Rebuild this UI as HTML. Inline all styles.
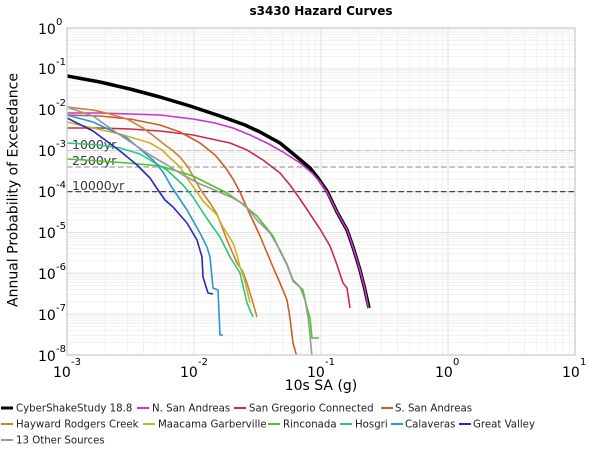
<!DOCTYPE html>
<html><head><meta charset="utf-8"><style>
html,body{margin:0;padding:0;background:#fff;}
svg{display:block;}
text{font-family:"DejaVu Sans","Liberation Sans",sans-serif;}
</style></head><body>
<svg width="600" height="450" viewBox="0 0 600 450" xmlns="http://www.w3.org/2000/svg">
<rect width="600" height="450" fill="#fff"/>
<defs><clipPath id="c"><rect x="67" y="28" width="508" height="327"/></clipPath></defs>
<!-- minor grid -->
<path stroke="#eeeeee" stroke-width="0.8" fill="none" d="
M105.2 28V355M127.6 28V355M143.5 28V355M155.8 28V355M165.8 28V355M174.3 28V355M181.7 28V355M188.2 28V355
M232.2 28V355M254.6 28V355M270.5 28V355M282.8 28V355M292.8 28V355M301.3 28V355M308.7 28V355M315.2 28V355
M359.2 28V355M381.6 28V355M397.5 28V355M409.8 28V355M419.8 28V355M428.3 28V355M435.7 28V355M442.2 28V355
M486.2 28V355M508.6 28V355M524.5 28V355M536.8 28V355M546.8 28V355M555.3 28V355M562.7 28V355M569.2 28V355
M67 56.6H575M67 49.4H575M67 44.3H575M67 40.3H575M67 37.1H575M67 34.4H575M67 32H575M67 29.9H575
M67 97.5H575M67 90.3H575M67 85.2H575M67 81.2H575M67 77.9H575M67 75.3H575M67 72.9H575M67 70.8H575
M67 138.3H575M67 131.1H575M67 126H575M67 122H575M67 118.8H575M67 116.1H575M67 113.7H575M67 111.6H575
M67 179.2H575M67 172H575M67 166.9H575M67 162.9H575M67 159.7H575M67 157H575M67 154.6H575M67 152.5H575
M67 220.1H575M67 212.9H575M67 207.8H575M67 203.8H575M67 200.6H575M67 197.9H575M67 195.5H575M67 193.4H575
M67 261H575M67 253.8H575M67 248.7H575M67 244.7H575M67 241.5H575M67 238.8H575M67 236.4H575M67 234.3H575
M67 301.8H575M67 294.6H575M67 289.5H575M67 285.5H575M67 282.3H575M67 279.6H575M67 277.2H575M67 275.1H575
M67 342.7H575M67 335.5H575M67 330.4H575M67 326.4H575M67 323.2H575M67 320.5H575M67 318.1H575M67 316H575"/>
<!-- major grid -->
<path stroke="#dedede" stroke-width="0.9" fill="none" d="M194 28V355M321 28V355M448 28V355
M67 68.9H575M67 109.75H575M67 150.6H575M67 191.5H575M67 232.4H575M67 273.25H575M67 314.1H575"/>
<!-- reference lines -->
<line x1="67" y1="150.6" x2="575" y2="150.6" stroke="#c4c4c4" stroke-width="1" stroke-dasharray="5.5,3"/>
<line x1="67" y1="167" x2="575" y2="167" stroke="#b0b0b0" stroke-width="1.5" stroke-dasharray="5.5,3"/>
<line x1="67" y1="191.6" x2="575" y2="191.6" stroke="#444" stroke-width="1.2" stroke-dasharray="5.5,3"/>
<text x="72" y="149" font-size="12.5" fill="#3a3a3a">1000yr</text>
<text x="72" y="165" font-size="12.5" fill="#3a3a3a">2500yr</text>
<text x="72" y="190" font-size="12.5" fill="#3a3a3a">10000yr</text>
<g clip-path="url(#c)" fill="none" stroke-linejoin="round" stroke-linecap="butt">
<polyline stroke="#000" stroke-width="3.5" points="67,76 100,82 130,89 160,97 190,106 220,116 245,125 260,132 280,143 297,157 310,168 318,178 327,191 337,212 347,230 353,247 360,270 365,290 369,308"/>
<polyline stroke="#cc33cc" stroke-width="1.6" points="67,113 100,113 130,114 160,115 193,119 215,123 233,128 250,135 267,143 283,152 300,163 312,173 320,182 327,192 337,212 347,230 353,247 360,270 365,290 368.5,308"/>
<polyline stroke="#cc2a4a" stroke-width="1.6" points="67,128 100,128 130,129 160,131 193,135 230,143 247,150 263,160 280,173 290,185 300,199 310,214 320,229 330,246 336,262 343,283 347,288 350,308"/>
<polyline stroke="#d05a28" stroke-width="1.6" points="67,115 100,116 130,119 160,125 180,132 200,143 215,155 225,167 233,179 240,192 248,210 255,225 260,236 268,255 273,267 280,283 287,300 290,318 293,343 297,357"/>
<polyline stroke="#cc8030" stroke-width="1.6" points="67,107 93,110 110,114 127,119 143,128 155,137 165,145 172,150 180,157 188,167 195,180 202,192 210,203 217,214 227,240 237,263 243,272 247,283 253,303 257,317"/>
<polyline stroke="#c8b428" stroke-width="1.6" points="67,122 93,128 120,134 140,140 150,143 162,150 170,158 180,167 187,178 197,192 203,201 210,208 217,215 223,227 233,243 237,255 240,267 244,278 247,290 250,303"/>
<polyline stroke="#48c828" stroke-width="1.6" points="67,159 100,161 127,163 160,166 180,172 193,176 213,186 227,193 240,202 257,216 273,236 280,251 287,265 293,281 303,290 307,308 310,318 312,338 319,338"/>
<polyline stroke="#28c878" stroke-width="1.6" points="67,143 100,145 120,148 140,154 150,160 167,170 183,185 193,197 200,208 210,223 220,237 230,257 240,273 244,290 247,303 253,317"/>
<polyline stroke="#2898d0" stroke-width="1.6" points="67,115 93,122 127,138 153,160 163,172 171,186 187,210 200,233 207,247 210,257 213,288 218,290 220,335 223,335"/>
<polyline stroke="#2828c0" stroke-width="1.6" points="67,118 93,131 120,151 137,165 150,178 158,190 165,200 173,207 187,223 197,240 202,257 203,277 208,293 213,294"/>
<polyline stroke="#999999" stroke-width="1.6" points="67,107 93,116 117,133 135,145 150,155 167,165 183,175 200,184 217,191 233,198 245,205 257,220 270,233 280,250 287,264 293,280 300,287 305,300 308,317 310,335 312,357"/>
</g>
<!-- spines -->
<rect x="67" y="28" width="508" height="327" fill="none" stroke="#cccccc" stroke-width="1.3"/>
<!-- title -->
<text x="321" y="15" font-size="12" font-weight="bold" text-anchor="middle" fill="#000">s3430 Hazard Curves</text>
<!-- y ticks -->
<g font-size="14" fill="#000">
<text x="38" y="34">10</text><text x="56" y="25" font-size="10">0</text>
<text x="38" y="74">10</text><text x="56" y="65" font-size="10">-1</text>
<text x="38" y="115">10</text><text x="56" y="106" font-size="10">-2</text>
<text x="38" y="156">10</text><text x="56" y="147" font-size="10">-3</text>
<text x="38" y="197">10</text><text x="56" y="188" font-size="10">-4</text>
<text x="38" y="238">10</text><text x="56" y="229" font-size="10">-5</text>
<text x="38" y="279">10</text><text x="56" y="270" font-size="10">-6</text>
<text x="38" y="320">10</text><text x="56" y="311" font-size="10">-7</text>
<text x="38" y="361">10</text><text x="56" y="352" font-size="10">-8</text>
</g>
<!-- x ticks -->
<g font-size="14" fill="#000">
<text x="53" y="377">10</text><text x="71" y="365" font-size="10">-3</text>
<text x="180" y="377">10</text><text x="198" y="365" font-size="10">-2</text>
<text x="307" y="377">10</text><text x="325" y="365" font-size="10">-1</text>
<text x="435" y="377">10</text><text x="453" y="365" font-size="10">0</text>
<text x="562" y="377">10</text><text x="580" y="365" font-size="10">1</text>
</g>
<text x="321" y="390" font-size="14" text-anchor="middle" fill="#000">10s SA (g)</text>
<text transform="translate(17.5,190) rotate(-90)" font-size="14" text-anchor="middle" fill="#000">Annual Probability of Exceedance</text>
<!-- legend -->
<g font-size="10.2" fill="#222">
<line x1="1" y1="408" x2="13" y2="408" stroke="#000" stroke-width="3"/><text x="16" y="411.5">CyberShakeStudy 18.8</text>
<line x1="137" y1="408" x2="149" y2="408" stroke="#cc33cc" stroke-width="2"/><text x="152" y="411.5">N. San Andreas</text>
<line x1="234" y1="408" x2="246" y2="408" stroke="#cc2a4a" stroke-width="2"/><text x="249" y="411.5">San Gregorio Connected</text>
<line x1="381" y1="408" x2="393" y2="408" stroke="#d05a28" stroke-width="2"/><text x="395" y="411.5">S. San Andreas</text>
<line x1="1" y1="424" x2="13" y2="424" stroke="#cc8030" stroke-width="2"/><text x="16" y="427.5">Hayward Rodgers Creek</text>
<line x1="143" y1="424" x2="155" y2="424" stroke="#c8b428" stroke-width="2"/><text x="158" y="427.5">Maacama Garberville</text>
<line x1="268" y1="424" x2="280" y2="424" stroke="#48c828" stroke-width="2"/><text x="283" y="427.5">Rinconada</text>
<line x1="340" y1="424" x2="352" y2="424" stroke="#28c878" stroke-width="2"/><text x="355" y="427.5">Hosgri</text>
<line x1="391" y1="424" x2="403" y2="424" stroke="#2898d0" stroke-width="2"/><text x="405" y="427.5">Calaveras</text>
<line x1="459" y1="424" x2="471" y2="424" stroke="#2828c0" stroke-width="2"/><text x="473" y="427.5">Great Valley</text>
<line x1="1" y1="440" x2="13" y2="440" stroke="#999999" stroke-width="2"/><text x="16" y="443.5">13 Other Sources</text>
</g>
</svg>
</body></html>
